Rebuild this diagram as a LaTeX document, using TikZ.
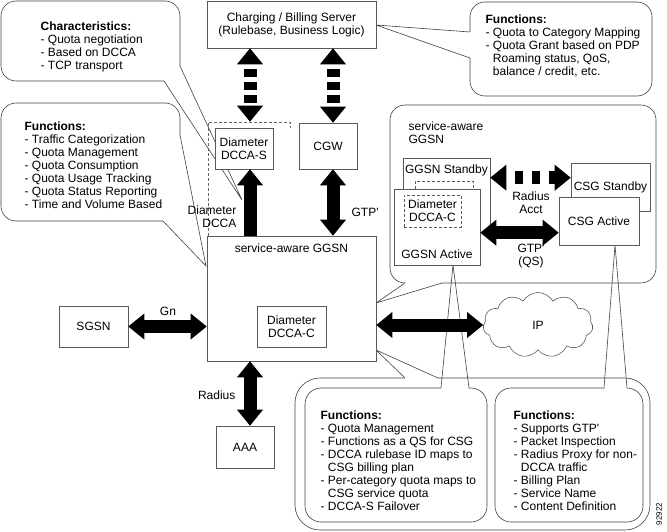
\documentclass[tikz,border=0pt]{standalone}
\usepackage{fontspec}
\newfontfamily\diafont{Liberation Sans}
\usetikzlibrary{arrows.meta,shapes.symbols}

\tikzset{
  box/.style={draw=black!65, fill=white, inner sep=0pt, align=center},
  dashbox/.style={box, dash pattern=on 3pt off 2pt},
  balloon/.style={draw=black!75, rounded corners=#1},
  balloon/.default=15pt,
  pointer/.style={draw=black!75},
  fatline/.style={draw=black, line width=13pt},
  twohead/.style={fatline, {Triangle[width=26pt,length=16pt,line width=0pt]}-{Triangle[width=26pt,length=16pt,line width=0pt]}},
  onehead/.style={fatline, -{Triangle[width=26pt,length=16pt,line width=0pt]}},
  dashy/.style={dash pattern=on 8pt off 5pt, dash phase=8pt},
}

\begin{document}
\begin{tikzpicture}[x=1pt, y=-1pt, line width=0.6pt,
    font=\diafont\fontsize{12}{13}\selectfont]
    % Picture frame
    \useasboundingbox (0,0) rectangle (667,532);

    % Callout: characteristics of the DCCA interface
    \coordinate (chartip) at (242,200);
    \draw[balloon] (180,66) -- (180,1) -- (1,1) -- (1,81) -- (164,81);
    \draw[pointer] (164,81) -- (chartip) -- (180,66);
    \node[anchor=north west, align=left] (chartext) at (37,18.5)
        {\textbf{Characteristics:}\\- Quota negotiation\\- Based on DCCA\\- TCP transport};

    % Callout: functions of the service-aware GGSN
    \coordinate (ggsntip) at (206,266);
    \draw[balloon] (180,135) -- (180,103) -- (1,103) -- (1,221) -- (163,221);
    \draw[pointer] (163,221) -- (ggsntip) -- (180,135);
    \node[anchor=north west, align=left] (ggsntext) at (21,118.5)
        {\textbf{Functions:}\\- Traffic Categorization\\- Quota Management\\- Quota Consumption\\- Quota Usage Tracking\\- Quota Status Reporting\\- Time and Volume Based};

    % Callout: functions of the billing server
    \coordinate (billtip) at (376,25);
    \draw[balloon] (470,58) -- (470,96) -- (652,96) -- (652,2) -- (470,2) -- (470,32);
    \draw[pointer] (470,32) -- (billtip) -- (470,58);
    \node[anchor=north west, align=left] (billtext) at (482,11.5)
        {\textbf{Functions:}\\- Quota to Category Mapping\\- Quota Grant based on PDP\\\phantom{- }Roaming status, QoS,\\\phantom{- }balance / credit, etc.};

    % Rounded frame of the redundant service-aware GGSN
    \coordinate (frametip) at (376,303);
    \draw[balloon] (442,283) -- (656,283) -- (656,105) -- (390,105) -- (390,283) -- (405,283);
    \draw[pointer] (405,283) -- (frametip) -- (442,283);
    \node[anchor=north west, align=left] (frametext) at (405,118.5) {service-aware\\GGSN};

    % Outer frame round the two lower callouts
    \coordinate (outertip) at (376,350);
    \draw[balloon=25pt] (438,378) -- (650,378) -- (650,530) -- (295,530) -- (295,378) -- (405,378);
    \draw[pointer] (405,378) -- (outertip) -- (438,378);

    % Lower callouts
    \coordinate (activetip) at (453,265);
    \coordinate (csgtip) at (615,245);
    \draw[balloon=16pt] (469,388) -- (487,388) -- (487,522) -- (305,522) -- (305,388) -- (441,388);
    \draw[pointer] (441,388) -- (activetip) -- (469,388);
    \node[anchor=north west, align=left] (activetext) at (317,407.5)
        {\textbf{Functions:}\\- Quota Management\\- Functions as a QS for CSG\\- DCCA rulebase ID maps to\\\phantom{- }CSG billing plan\\- Per-category quota maps to\\\phantom{- }CSG service quota\\- DCCA-S Failover};
    \draw[balloon=16pt] (627,388) -- (643,388) -- (643,522) -- (495,522) -- (495,388) -- (604,388);
    \draw[pointer] (604,388) -- (csgtip) -- (627,388);
    \node[anchor=north west, align=left] (csgtext) at (510,407.5)
        {\textbf{Functions:}\\- Supports GTP'\\- Packet Inspection\\- Radius Proxy for non-\\\phantom{- }DCCA traffic\\- Billing Plan\\- Service Name\\- Content Definition};

    % Server side
    \node[box, minimum width=169pt, minimum height=47pt] (charging) at (291.5,24.5)
        {Charging / Billing Server\\(Rulebase, Business Logic)};
    \draw[draw=black!60, dash pattern=on 3pt off 2pt] (208,236) -- (208,122) -- (290,122) -- (290,128);
    \node[box, minimum width=58pt, minimum height=41pt] (dccas) at (244,148.5) {Diameter\\DCCA-S};
    \node[box, minimum width=58pt, minimum height=46pt] (cgw) at (328,146) {CGW};

    % Main GGSN and its neighbours
    \node[box, minimum width=169pt, minimum height=125pt,
        label={[anchor=north, yshift=-4pt]north:service-aware GGSN}] (ggsn) at (291.5,298.5) {};
    \node[box, minimum width=69pt, minimum height=41pt] (dccac) at (291.5,326.5) {Diameter\\DCCA-C};
    \node[box, minimum width=69pt, minimum height=41pt] (sgsn) at (93.5,326.5) {SGSN};
    \node[box, minimum width=58pt, minimum height=42pt] (aaa) at (245,447) {AAA};
    \node[cloud, draw=black!65, cloud puffs=11, cloud puff arc=120, aspect=1.7,
        minimum width=110pt, minimum height=65pt, inner sep=0pt] (ip) at (538,325) {IP};

    % Redundant pair inside the frame
    \node[box, minimum width=87pt, minimum height=74pt,
        label={[anchor=north, yshift=-3pt]north:GGSN Standby}] (ggsnstandby) at (446.5,195) {};
    \node[dashbox, minimum width=58pt, minimum height=34pt] (dccastandby) at (444,198) {};
    \node[box, minimum width=86pt, minimum height=76pt,
        label={[anchor=south, yshift=3pt]south:GGSN Active}] (ggsnactive) at (437,227) {};
    \node[dashbox, minimum width=57pt, minimum height=32pt] (dccaactive) at (432.5,211) {Diameter\\DCCA-C};
    \node[box, minimum width=79pt, minimum height=48pt] (csgstandby) at (610.5,187) {CSG Standby};
    \node[box, minimum width=80pt, minimum height=48pt] (csgactive) at (599,221) {CSG Active};

    % Connections
    \draw[twohead, dashy] ([xshift=-41.5pt]charging.south) -- ([xshift=6pt, yshift=6pt]dccas.north);
    \draw[twohead, dashy] ([xshift=41.5pt]charging.south) -- ([xshift=5pt]cgw.north);
    \draw[onehead] ([xshift=-41.5pt]ggsn.north) -- ([xshift=6pt]dccas.south);
    \node[anchor=east, align=right] (dccalabel) at (240,216.5) {Diameter\\DCCA};
    \draw[twohead] ([xshift=41.5pt]ggsn.north) -- ([xshift=5pt]cgw.south);
    \node[anchor=west] (gtplabel) at (348,212) {GTP'};
    \draw[twohead] (sgsn.east) -- (ggsn.west |- sgsn.east);
    \node (gnlabel) at (168,311) {Gn};
    \draw[twohead] (ggsn.east |- ip.west) -- (ip.west);
    \draw[twohead] ([xshift=-41.5pt]ggsn.south) -- ([xshift=-41.5pt]ggsn.south |- aaa.north);
    \node[anchor=east] (radiuslabel) at (239,395) {Radius};
    \draw[twohead, dash pattern=on 8pt off 9pt, dash phase=8pt]
        ([yshift=-20pt]ggsnstandby.north east) -- ([yshift=-15pt]csgstandby.north west);
    \node[align=center] (acctlabel) at (531,202.5) {Radius\\Acct};
    \draw[twohead] ([yshift=-44pt]ggsnactive.north east) -- ([yshift=-36pt]csgactive.north west);
    \node[align=center] (qslabel) at (531,256.5) {GTP'\\(QS)};

    % Figure number
    \node[rotate=90, font=\diafont\fontsize{8}{8}\selectfont] (figid) at (659,514) {92922};
\end{tikzpicture}
\end{document}
